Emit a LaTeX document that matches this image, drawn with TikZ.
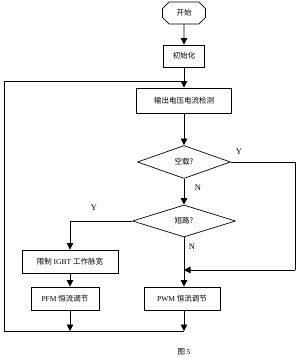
\documentclass[tikz,border=0pt]{standalone}
\usepackage{fontspec}
\setmainfont{Liberation Serif}
\newfontfamily\cjk{Noto Sans CJK SC}
\usetikzlibrary{shapes.geometric,shapes.misc,arrows.meta}
\begin{document}
\begin{tikzpicture}[x=1pt,y=-1pt,
  every node/.style={font=\fontsize{7.5}{8}\selectfont},
  proc/.style={draw,line width=0.8pt,rectangle,inner sep=0pt},
  dec/.style={draw,line width=0.7pt,diamond,inner sep=0pt},
  term/.style={draw,line width=0.7pt,chamfered rectangle,chamfered rectangle xsep=5pt,inner sep=0pt},
  lbl/.style={font=\fontsize{8.5}{9}\selectfont},
  ln/.style={line width=0.7pt},
  arr/.style={ln,-{Triangle[length=6.5pt,width=6.5pt]}}]
\useasboundingbox (0,0) rectangle (298,358);
\node[term,minimum width=43pt,minimum height=22pt] (start) at (184,13) {\cjk 开始};
\node[proc,minimum width=41pt,minimum height=22pt] (init) at (184,56) {\cjk 初始化};
\node[proc,minimum width=95pt,minimum height=25pt] (detect) at (184,100.5) {\cjk 输出电压电流检测};
\node[dec,minimum width=93pt,minimum height=33pt] (d1) at (184,162) {\cjk 空载?};
\node[dec,minimum width=103pt,minimum height=32pt] (d2) at (184,221) {\cjk 短路?};
\node[proc,minimum width=96pt,minimum height=23pt] (limit) at (70,261.5) {\cjk 限制 \rmfamily IGBT \cjk 工作脉宽};
\node[proc,minimum width=68pt,minimum height=23pt] (pfm) at (65,298.5) {PFM \cjk 恒流调节};
\node[proc,minimum width=76pt,minimum height=23pt] (pwm) at (182,298.5) {PWM \cjk 恒流调节};
\node (cap) at (184,352) {\cjk 图 \rmfamily 5};
\coordinate (join) at (184,81);
\coordinate (lt) at (4,81);
\coordinate (lb) at (4,331);
\coordinate (bj) at (184,331);
\coordinate (rt) at (295,162);
\coordinate (rb) at (295,270);
\coordinate (merge) at (184,270);
\coordinate (yc) at (70,221);
\draw[arr] (start) -- (init);
\draw[arr] (init) -- (detect);
\draw[arr] (detect) -- (d1);
\draw[arr] (d1) -- (d2);
\draw[ln] (d1.east) -- (rt) -- (rb);
\draw[arr] (rb) -- (merge);
\draw[ln] (d2.west) -- (yc);
\draw[arr] (yc) -- (limit.north);
\draw[arr] (d2.south) -- (d2.south |- pwm.north);
\draw[arr] (limit.south) -- (limit.south |- pfm.north);
\draw[arr] (limit.south |- pfm.south) -- (limit.south |- bj);
\draw[arr] (d2.south |- pwm.south) -- (bj);
\draw[ln] (bj) -- (lb) -- (lt) -- (join);
\node[lbl] (y1) at (239,152) {Y};
\node[lbl] (n1) at (198,188) {N};
\node[lbl] (y2) at (94,208) {Y};
\node[lbl] (n2) at (192,247) {N};
\end{tikzpicture}
\end{document}
